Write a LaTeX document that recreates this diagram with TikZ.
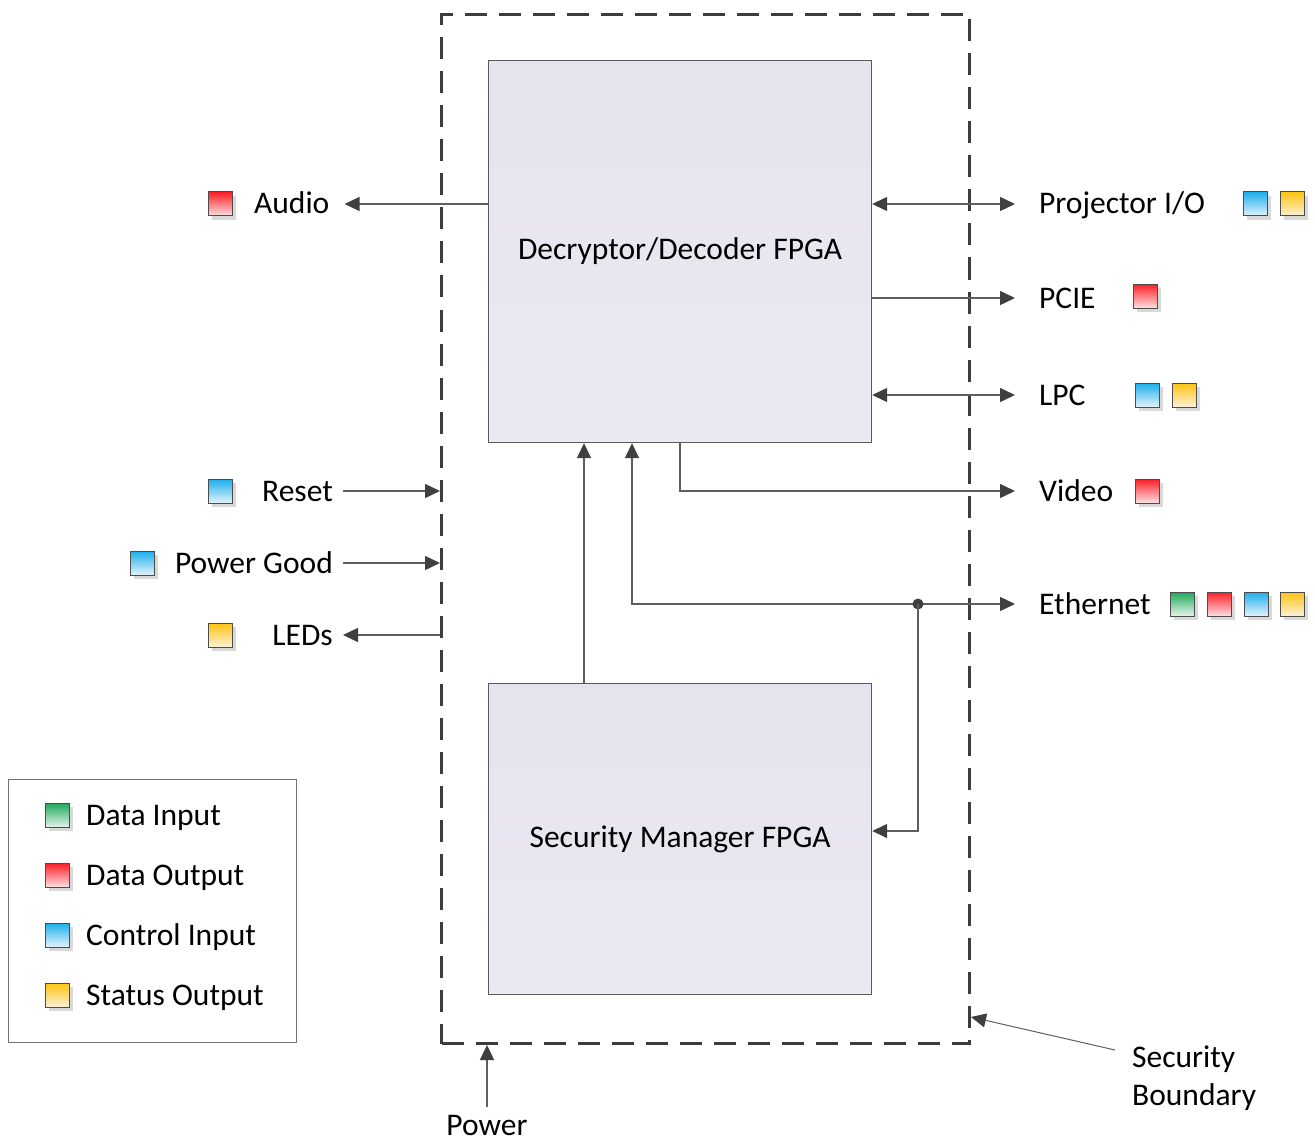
\documentclass[tikz,border=0pt]{standalone}
\usepackage{fontspec}
\setmainfont{Carlito}
\usetikzlibrary{arrows.meta,shadows,calc}
\definecolor{linegray}{HTML}{5E5E5E}
\definecolor{tipgray}{HTML}{3F3F3F}
\definecolor{bordgray}{HTML}{3C3C3C}
\definecolor{boxfill}{HTML}{E6E3EE}
\definecolor{gtop}{HTML}{1EA85A}\definecolor{gbot}{HTML}{E2F4E8}
\definecolor{rtop}{HTML}{FF1D25}\definecolor{rbot}{HTML}{FBE0E3}
\definecolor{btop}{HTML}{1BAEEB}\definecolor{bbot}{HTML}{E3F3FB}
\definecolor{ytop}{HTML}{FFC30F}\definecolor{ybot}{HTML}{FCF1D8}
\tikzset{
  conn/.style={draw=linegray, line width=1.4pt,
    >={Triangle[length=15pt,width=14pt,color=tipgray]}},
  fpga/.style={draw=black!65, line width=1.2pt, top color=boxfill, bottom color=boxfill!80!white,
    minimum width=383pt, minimum height=#1, anchor=north west, inner sep=0pt},
  boundary/.style={draw=bordgray, line width=3pt, dash pattern=on 22pt off 12pt,
    minimum width=528pt, minimum height=1029pt, anchor=north west, inner sep=0pt},
  lbl/.style={inner sep=0pt, text height=20pt, text depth=0pt},
  sq/.style n args={2}{draw=black!70, line width=1pt, minimum size=24pt, inner sep=0pt,
    top color=#1, bottom color=#2,
    drop shadow={shadow xshift=4pt, shadow yshift=-4pt, fill=black!15, opacity=1}},
  gsq/.style={sq={gtop}{gbot}},
  rsq/.style={sq={rtop}{rbot}},
  bsq/.style={sq={btop}{bbot}},
  ysq/.style={sq={ytop}{ybot}},
  dot/.style={circle, fill=tipgray, inner sep=0pt, minimum size=11pt},
}
\begin{document}
\begin{tikzpicture}[x=1pt, y=-1pt, font=\fontsize{31.5pt}{38pt}\selectfont]
\useasboundingbox (0,0) rectangle (1315,1142);

% boundary and FPGAs
\node[boundary] (bd) at (440,13) {};
\node[fpga=382pt] (dec) at (488,60) {Decryptor/Decoder FPGA};
\node[fpga=311pt] (smm) at (488,683) {Security Manager FPGA};

% left labels
\node[lbl, anchor=west] (audio) at (254,204) {Audio};
\node[rsq] (sqaudio) at (220,204) {};
\node[lbl, anchor=east] (reset) at (333,491) {Reset};
\node[bsq] (sqreset) at (220,491) {};
\node[lbl, anchor=east] (pgood) at (333,563) {Power Good};
\node[bsq] (sqpgood) at (142,563) {};
\node[lbl, anchor=east] (leds) at (333,635) {LEDs};
\node[ysq] (sqleds) at (220,635) {};

% right labels
\node[lbl, anchor=west] (proj) at (1039,204) {Projector I/O};
\node[bsq] (sqproj1) at (1255,204) {};
\node[ysq] (sqproj2) at (1292,204) {};
\node[lbl, anchor=west] (pcie) at (1039,298) {PCIE};
\node[rsq] (sqpcie) at (1145,296) {};
\node[lbl, anchor=west] (lpc) at (1039,395) {LPC};
\node[bsq] (sqlpc1) at (1147,395) {};
\node[ysq] (sqlpc2) at (1184,395) {};
\node[lbl, anchor=west] (video) at (1039,491) {Video};
\node[rsq] (sqvideo) at (1147,491) {};
\node[lbl, anchor=west] (eth) at (1039,604) {Ethernet};
\node[gsq] (sqeth1) at (1182,604) {};
\node[rsq] (sqeth2) at (1219,604) {};
\node[bsq] (sqeth3) at (1256,604) {};
\node[ysq] (sqeth4) at (1292,604) {};

% bottom labels
\node[lbl, anchor=north] (power) at (487,1115) {Power};
\node[inner sep=0pt, anchor=north west, align=left] (sb) at (1132,1046) {Security\\Boundary};

% legend
\node[draw=black!55, line width=1pt, minimum width=288pt, minimum height=263pt, anchor=north west, inner sep=0pt] (legend) at (8,779) {};
\node[gsq] (lg1) at (57,815) {};
\node[lbl, anchor=west] (lt1) at (86,815) {Data Input};
\node[rsq] (lg2) at (57,875) {};
\node[lbl, anchor=west] (lt2) at (86,875) {Data Output};
\node[bsq] (lg3) at (57,935) {};
\node[lbl, anchor=west] (lt3) at (86,935) {Control Input};
\node[ysq] (lg4) at (57,995) {};
\node[lbl, anchor=west] (lt4) at (86,995) {Status Output};

% connectors
\draw[conn,->] (dec.west |- audio.west) -- ([xshift=15pt]audio.east |- audio.west);
\draw[conn,<->] (dec.east |- proj.west) -- ([xshift=-24pt]proj.west);
\draw[conn,->] (dec.east |- pcie.west) -- ([xshift=-24pt]pcie.west);
\draw[conn,<->] (dec.east |- lpc.west) -- ([xshift=-24pt]lpc.west);
\draw[conn,->] (dec.south -| 680,0) -- (680,491) -- ([xshift=-24pt]video.west);
\draw[conn,<->] (dec.south -| 632,0) -- (632,604) -- ([xshift=-24pt]eth.west);
\node[dot] (jn) at (918,604) {};
\draw[conn,->] (jn.center) -- (918,831) -- (smm.east |- 0,831);
\draw[conn,->] (smm.north -| 584,0) -- (dec.south -| 584,0);
\draw[conn,->] ([xshift=10pt]reset.east) -- (bd.west |- reset.east);
\draw[conn,->] ([xshift=10pt]pgood.east) -- (bd.west |- pgood.east);
\draw[conn,->] (bd.west |- leds.west) -- ([xshift=10pt]leds.east);
\draw[conn,->] ([yshift=8pt]power.north) -- (power.north |- bd.south);
\draw[conn,->, line width=1pt] ([xshift=-17pt,yshift=-4pt]sb.north west) -- (bd.east |- 0,1017);
\end{tikzpicture}
\end{document}
